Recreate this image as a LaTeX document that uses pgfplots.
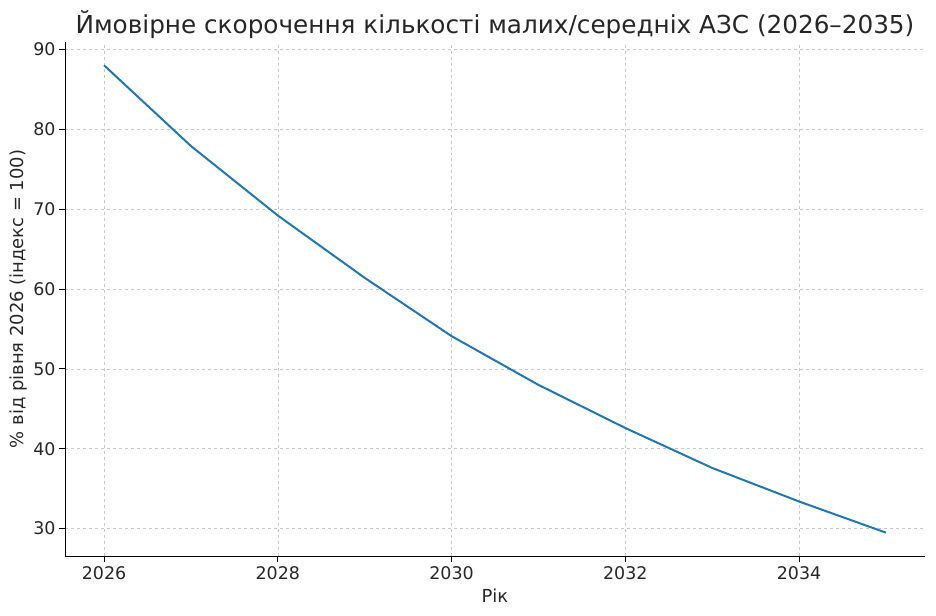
\documentclass[border=0pt]{standalone}
\usepackage{fontspec}
\setmainfont{DejaVu Sans}
\usepackage{pgfplots}
\pgfplotsset{compat=1.18}
\definecolor{mplblue}{HTML}{1F77B4}
\definecolor{txt}{HTML}{262626}
\begin{document}
\begin{tikzpicture}
\useasboundingbox (-65bp,-60bp) rectangle (871bp,556bp);
\begin{axis}[
  at={(0,0)}, anchor=origin,
  scale only axis,
  width=860bp, height=514bp,
  xmin=2025.55, xmax=2035.45,
  ymin=26.575, ymax=90.925,
  xtick={2026,2028,2030,2032,2034},
  ytick={30,40,50,60,70,80,90},
  /pgf/number format/1000 sep={},
  /pgf/number format/assume math mode=true,
  axis x line*=bottom, axis y line*=left,
  axis line style={black, line width=0.9bp, -},
  tick style={black, line width=0.9bp},
  tick align=outside,
  major tick length=6bp,
  grid=major,
  grid style={dashed, color=black!22, line width=0.6bp},
  tick label style={font=\fontsize{17.5}{20}\selectfont, text=txt},
  xticklabel style={yshift=-1bp},
  label style={font=\fontsize{18}{21}\selectfont, text=txt},
  xlabel={Рік},
  xlabel style={yshift=-2bp},
  ylabel={\% від рівня 2026 (індекс = 100)},
  ylabel style={yshift=-1bp},
  title={Ймовірне скорочення кількості малих/середніх АЗС (2026–2035)},
  title style={font=\fontsize{24.8}{29}\selectfont, text=txt, yshift=-6bp},
]
\addplot[color=mplblue, line width=2bp] coordinates {
(2026,88.0) (2027,77.9) (2028,69.2) (2029,61.4) (2030,54.1)
(2031,48.0) (2032,42.6) (2033,37.6) (2034,33.4) (2035,29.5)
};
\end{axis}
\end{tikzpicture}
\end{document}
